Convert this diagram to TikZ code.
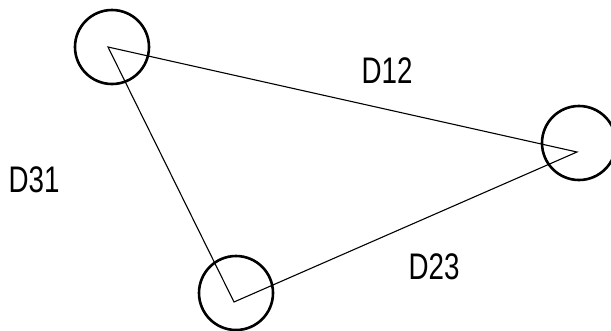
\documentclass[tikz,border=0pt]{standalone}
\usepackage{fontspec}
\setmainfont{Liberation Sans}
\begin{document}
\begin{tikzpicture}[x=1pt,y=-1pt,
  site/.style={circle,draw,line width=2.6pt,minimum size=74pt,inner sep=0pt},
  edge/.style={line width=1.1pt},
  lbl/.style={font=\fontsize{37}{37}\selectfont,inner sep=0pt,xscale=0.75}]
\useasboundingbox (0,0) rectangle (611,330);
\node[site] (c1) at (112,47) {};
\node[site] (c2) at (579,143) {};
\node[site] (c3) at (236,293) {};
\coordinate (v1) at (108,47);
\coordinate (v2) at (577,152);
\coordinate (v3) at (234,302);
\draw[edge] (v1) -- (v2) -- (v3) -- cycle;
\node[lbl] (d12) at (387,71) {D12};
\node[lbl] (d31) at (34,180) {D31};
\node[lbl] (d23) at (434,267) {D23};
\end{tikzpicture}
\end{document}
